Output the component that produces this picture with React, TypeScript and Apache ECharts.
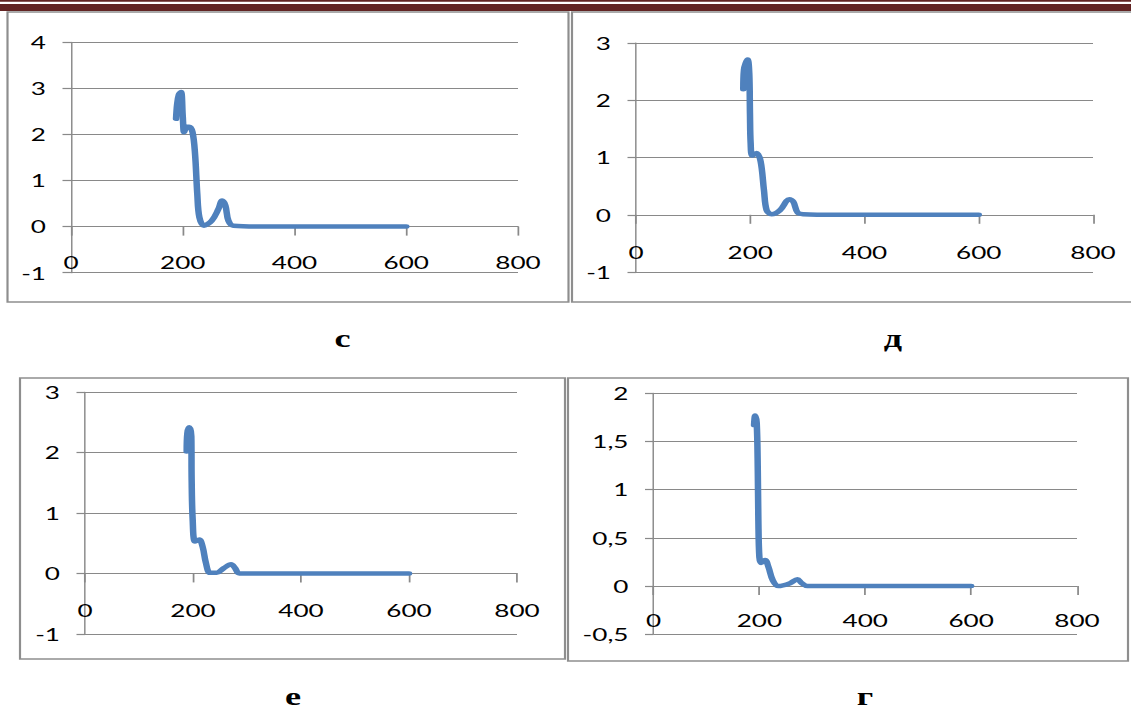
import React, { useEffect, useRef } from "react";
import * as echarts from "echarts";

// ---- data ----
const xTicks = [0, 200, 400, 600, 800];

const xC = [188, 190, 193, 197, 200, 202.5, 207, 211.5, 217.5, 222, 226, 229.8, 238, 252, 263.8, 270.4, 276.3, 281.7, 290.7, 350, 450, 550, 600];
const yC = [2.34, 2.66, 2.86, 2.92, 2.4, 2.05, 2.17, 2.17, 2.05, 1.58, 0.71, 0.2, 0.02, 0.13, 0.38, 0.565, 0.46, 0.13, 0.02, 0, 0, 0, 0];

const xD = [187.8, 189, 195.4, 198.3, 199.5, 200.7, 203.6, 211.2, 218.2, 224, 228.7, 237.4, 252, 268.4, 275.3, 282.9, 292.7, 350, 450, 550, 600];
const yD = [2.19, 2.53, 2.71, 2.47, 1.77, 1.25, 1.03, 1.08, 0.93, 0.43, 0.08, 0.01, 0.08, 0.27, 0.23, 0.04, 0.01, 0, 0, 0, 0];

const xE = [188.3, 189.5, 193.1, 196.9, 197.5, 199.4, 203.7, 211.7, 217.9, 224, 231.5, 243.8, 257.4, 270.4, 277.8, 285.8, 350, 450, 550, 600];
const yE = [2.02, 2.32, 2.42, 2.27, 1.55, 0.89, 0.53, 0.56, 0.44, 0.17, 0.01, 0.01, 0.09, 0.15, 0.09, 0.0, 0, 0, 0, 0];

const xG = [190, 191.9, 195, 197, 198.1, 200, 203.2, 210.8, 217, 225.3, 236, 258, 271.8, 280, 290.7, 350, 450, 550, 600];
const yG = [1.67, 1.77, 1.69, 1.2, 0.68, 0.3, 0.24, 0.27, 0.2, 0.06, 0.0, 0.03, 0.07, 0.03, 0.0, 0, 0, 0, 0];

const captions = ["с", "д", "е", "г"];

// ---- layout ----
const S = 1.45; // horizontal stretch of the whole picture
const W = 1131 / S;
const px = (x: number) => x / S;

const panels = [
  { l: 71, r: 518, t: 42.3, b: 272.7, min: -1, max: 4, step: 1, lm: 27, xs: xC, ys: yC },
  { l: 636, r: 1093, t: 42.9, b: 272.1, min: -1, max: 3, step: 1, lm: 28, xs: xD, ys: yD },
  { l: 85, r: 517, t: 392.3, b: 633.8, min: -1, max: 3, step: 1, lm: 28, xs: xE, ys: yE },
  { l: 653.5, r: 1077, t: 393.3, b: 634.2, min: -0.5, max: 2, step: 0.5, lm: 25, xs: xG, ys: yG },
];

const boxes = [
  { x1: 7.5, x2: 568.5, y1: 12, y2: 302 },
  { x1: 572, x2: 1136, y1: 12, y2: 302 },
  { x1: 20, x2: 565, y1: 378, y2: 659 },
  { x1: 568, x2: 1128, y1: 378, y2: 661 },
];

const capPos = [
  { x: 342.5, y: 339 },
  { x: 893, y: 339 },
  { x: 293, y: 697 },
  { x: 865, y: 697 },
];

const GRAY = "#898989";
const labelFont = { fontFamily: "Lato", fontSize: 18, color: "#000" };

function buildOption() {
  return {
    animation: false,
    backgroundColor: "#fff",
    grid: panels.map((p) => ({
      left: px(p.l),
      top: p.t,
      width: px(p.r - p.l),
      height: p.b - p.t,
      containLabel: false,
      outerBoundsMode: "none",
    })),
    xAxis: panels.map((p, i) => {
      // distance of the zero line above the bottom of the plot
      const zeroUp = ((0 - p.min) / (p.max - p.min)) * (p.b - p.t);
      return {
        type: "value",
        gridIndex: i,
        position: "bottom",
        offset: -zeroUp,
        min: xTicks[0],
        max: xTicks[xTicks.length - 1],
        interval: xTicks[1] - xTicks[0],
        axisLine: { show: true, onZero: false, lineStyle: { color: GRAY, width: 1.2 } },
        axisTick: { show: true, length: 9, lineStyle: { color: GRAY, width: 1.2 } },
        axisLabel: { ...labelFont, margin: p.lm, lineHeight: 18 },
        splitLine: { show: false },
      };
    }),
    yAxis: panels.map((p, i) => ({
      type: "value",
      gridIndex: i,
      min: p.min,
      max: p.max,
      interval: p.step,
      axisLine: { show: true, onZero: false, lineStyle: { color: GRAY, width: 1 } },
      axisTick: { show: true, length: px(8.5), lineStyle: { color: GRAY, width: 1.2 } },
      axisLabel: {
        ...labelFont,
        margin: px(25),
        formatter: (v: number) => String(v).replace(".", ","),
      },
      splitLine: { show: true, lineStyle: { color: GRAY, width: 1.2 } },
    })),
    series: panels.map((p, i) => ({
      type: "line",
      xAxisIndex: i,
      yAxisIndex: i,
      data: p.xs.map((x, k) => [x, p.ys[k]]),
      showSymbol: false,
      smooth: 0.35,
      lineStyle: { color: "#4F81BD", width: 4.5, cap: "round", join: "round" },
      z: 5,
    })),
    graphic: [
      { type: "rect", shape: { x: 0, y: 0, width: W, height: 1.8 }, style: { fill: "#622423" }, silent: true },
      { type: "rect", shape: { x: 0, y: 4, width: W, height: 7 }, style: { fill: "#622423" }, silent: true },
      ...boxes.map((b) => ({
        type: "rect",
        shape: { x: px(b.x1), y: b.y1, width: px(b.x2 - b.x1), height: b.y2 - b.y1 },
        style: { fill: "none", stroke: "#8e8e8e", lineWidth: 1.5 },
        silent: true,
      })),
      ...captions.map((c, i) => ({
        type: "text",
        x: px(capPos[i].x),
        y: capPos[i].y,
        style: {
          text: c,
          fontFamily: "Liberation Serif",
          fontWeight: "bold",
          fontSize: 25,
          fill: "#000",
          textAlign: "center",
          textVerticalAlign: "middle",
        },
        silent: true,
      })),
    ],
  };
}

export default function App() {
  const ref = useRef<HTMLDivElement>(null);
  useEffect(() => {
    if (!ref.current) return;
    const chart = echarts.init(ref.current, null, { renderer: "svg" });
    chart.setOption(buildOption() as any);
    return () => chart.dispose();
  }, []);
  return (
    <div
      style={{
        position: "absolute",
        left: 0,
        top: 0,
        width: 1131,
        height: 713,
        overflow: "hidden",
        background: "#fff",
      }}
    >
      <div
        ref={ref}
        style={{
          width: W,
          height: 713,
          transform: `scaleX(${S})`,
          transformOrigin: "0 0",
        }}
      />
    </div>
  );
}
